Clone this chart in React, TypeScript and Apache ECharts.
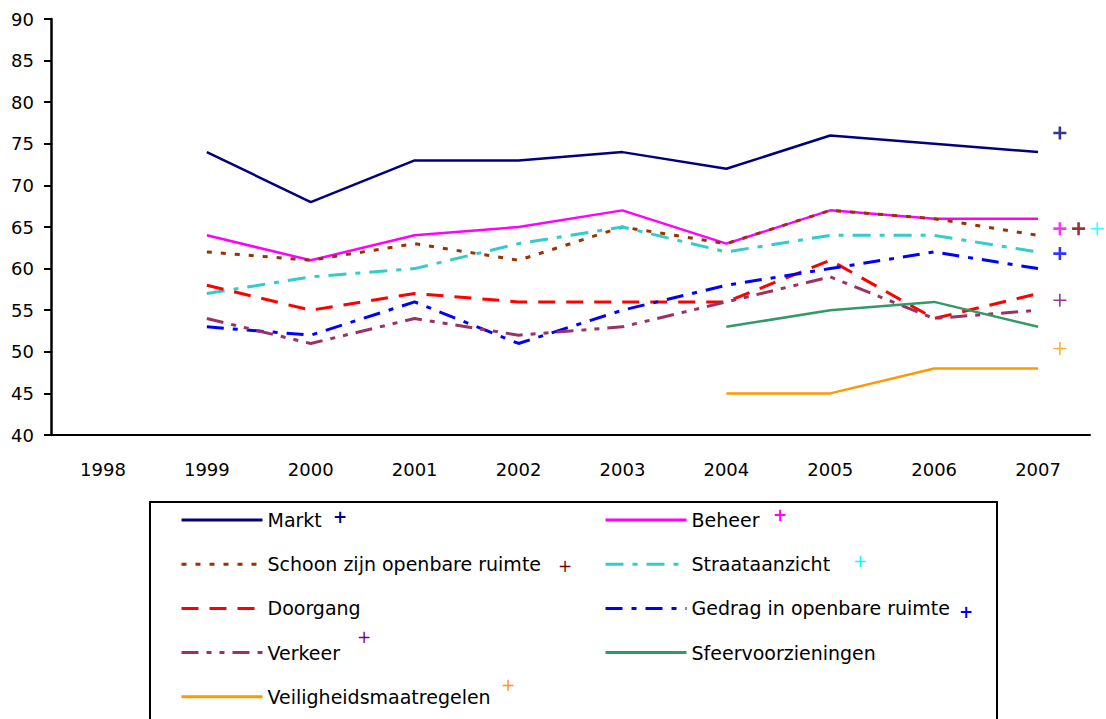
import React, { useEffect, useRef } from "react";
import * as echarts from "echarts";

const years = ["1998", "1999", "2000", "2001", "2002", "2003", "2004", "2005", "2006", "2007"];
const yTicks = { min: 40, max: 90, interval: 5 };

const markt = [null, 74, 68, 73, 73, 74, 72, 76, 75, 74];
const beheer = [null, 64, 61, 64, 65, 67, 63, 67, 66, 66];
const schoon = [null, 62, 61, 63, 61, 65, 63, 67, 66, 64];
const straat = [null, 57, 59, 60, 63, 65, 62, 64, 64, 62];
const doorgang = [null, 58, 55, 57, 56, 56, 56, 61, 54, 57];
const gedrag = [null, 53, 52, 56, 51, 55, 58, 60, 62, 60];
const verkeer = [null, 54, 51, 54, 52, 53, 56, 59, 54, 55];
const sfeer = [null, null, null, null, null, null, 53, 55, 56, 53];
const veiligheid = [null, null, null, null, null, null, 45, 45, 48, 48];

// target "+" markers: [position on band scale (0..10), value]
const targetMarkt = [[9.71, 76.3]];
const targetBeheer = [[9.71, 64.8]];
const targetSchoon = [[9.89, 64.8]];
const targetStraat = [[10.07, 64.8]];
const targetGedrag = [[9.71, 61.8]];
const targetVerkeer = [[9.71, 56.2]];
const targetVeiligheid = [[9.71, 50.4]];

const PLUS = "path://M-1,-5L1,-5L1,-1L5,-1L5,1L1,1L1,5L-1,5L-1,1L-5,1L-5,-1L-1,-1Z";
const PLUS_THIN = "path://M-0.6,-5L0.6,-5L0.6,-0.6L5,-0.6L5,0.6L0.6,0.6L0.6,5L-0.6,5L-0.6,0.6L-5,0.6L-5,-0.6L-0.6,-0.6Z";

const FONT = "DejaVu Sans";

function lineSeries(name: string, data: (number | null)[], color: string, type: any, width = 2.5) {
  return {
    name,
    type: "line",
    data,
    symbol: "none",
    xAxisIndex: 0,
    yAxisIndex: 0,
    connectNulls: false,
    lineStyle: { color, width, type },
    itemStyle: { color },
  };
}

function plusSeries(data: number[][], color: string, thin = false) {
  return {
    type: "scatter",
    data,
    xAxisIndex: 1,
    yAxisIndex: 0,
    symbol: thin ? PLUS_THIN : PLUS,
    symbolSize: 13,
    clip: false,
    itemStyle: { color },
    silent: true,
  };
}

export default function App() {
  const ref = useRef<HTMLDivElement>(null);
  useEffect(() => {
    if (!ref.current) return;
    const chart = echarts.init(ref.current, undefined, { renderer: "svg" });
    const legendText = { fontFamily: FONT, fontSize: 19, color: "#000", lineHeight: 22 };
    const legendCommon = {
      orient: "vertical",
      top: 509,
      height: 230,
      padding: 0,
      itemWidth: 81,
      itemHeight: 14,
      itemGap: 22.2,
      textStyle: legendText,
      itemStyle: { color: "rgba(0,0,0,0)", borderWidth: 0, opacity: 0 },
      lineStyle: { width: 3 },
      selectedMode: false,
    };
    const plusText = (x: number, y: number, color: string, bold = true) => ({
      type: "text",
      x,
      y,
      style: {
        text: "+",
        fill: color,
        font: `${bold ? "bold " : ""}17px ${FONT}`,
        textAlign: "center",
        textVerticalAlign: "middle",
      },
      silent: true,
    });
    chart.setOption({
      animation: false,
      backgroundColor: "#fff",
      grid: { left: 51, top: 19, right: 16, bottom: 284, containLabel: false },
      xAxis: [
        {
          type: "category",
          data: years,
          boundaryGap: true,
          axisLine: { lineStyle: { color: "#000", width: 2 } },
          axisTick: { show: false },
          axisLabel: { color: "#000", fontFamily: FONT, fontSize: 18, margin: 25 },
          splitLine: { show: false },
        },
        { type: "value", min: 0, max: 10, show: false },
      ],
      yAxis: {
        type: "value",
        min: yTicks.min,
        max: yTicks.max,
        interval: yTicks.interval,
        axisLine: { show: true, lineStyle: { color: "#000", width: 2.5 } },
        axisTick: { show: true, length: 7, lineStyle: { color: "#000", width: 2 } },
        axisLabel: { color: "#000", fontFamily: FONT, fontSize: 18, margin: 17 },
        splitLine: { show: false },
      },
      legend: [
        {
          ...legendCommon,
          left: 180,
          data: ["Markt", "Schoon zijn openbare ruimte", "Doorgang", "Verkeer", "Veiligheidsmaatregelen"],
        },
        {
          ...legendCommon,
          left: 604,
          data: ["Beheer", "Straataanzicht", "Gedrag in openbare ruimte", "Sfeervoorzieningen"],
        },
      ],
      graphic: [
        {
          type: "rect",
          shape: { x: 150, y: 502, width: 847, height: 240 },
          style: { fill: "none", stroke: "#000", lineWidth: 2 },
          silent: true,
        },
        plusText(340, 517, "#000080"),
        plusText(780, 515, "#FF00FF"),
        plusText(565, 566, "#800000", false),
        plusText(860, 561, "#00FFFF", false),
        plusText(966, 612, "#0000FF"),
        plusText(364, 637, "#800080", false),
        plusText(508, 685, "#FF9900", false),
      ],
      series: [
        lineSeries("Markt", markt, "#000080", "solid", 2.5),
        lineSeries("Beheer", beheer, "#FF00FF", "solid", 2.5),
        lineSeries("Schoon zijn openbare ruimte", schoon, "#993300", [5, 9], 3),
        lineSeries("Straataanzicht", straat, "#33CCCC", [18, 9, 5, 9], 3),
        lineSeries("Doorgang", doorgang, "#FF0000", [17, 11], 3),
        lineSeries("Gedrag in openbare ruimte", gedrag, "#0000FF", [17, 9, 5, 9], 3),
        lineSeries("Verkeer", verkeer, "#993366", [17, 8, 5, 8, 5, 8], 3),
        lineSeries("Sfeervoorzieningen", sfeer, "#339966", "solid", 2.5),
        lineSeries("Veiligheidsmaatregelen", veiligheid, "#FF9900", "solid", 2.5),
        plusSeries(targetMarkt, "#000080"),
        plusSeries(targetBeheer, "#FF00FF"),
        plusSeries(targetSchoon, "#800000"),
        plusSeries(targetStraat, "#00FFFF", true),
        plusSeries(targetGedrag, "#0000FF"),
        plusSeries(targetVerkeer, "#800080", true),
        plusSeries(targetVeiligheid, "#FF9900", true),
      ],
    });
    return () => chart.dispose();
  }, []);
  return <div ref={ref} style={{ width: 1106, height: 719, position: "absolute", left: 0, top: 0 }} />;
}
